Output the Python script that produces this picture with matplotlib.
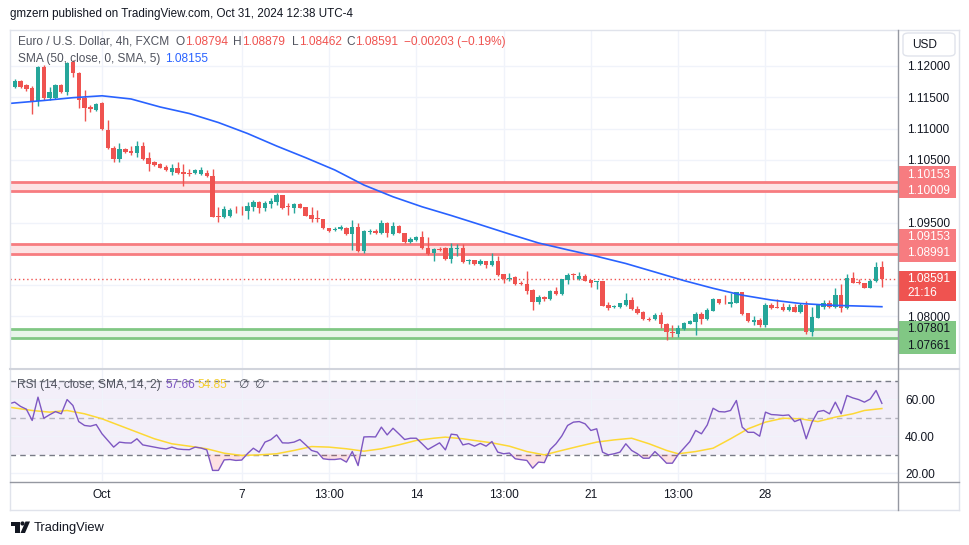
import numpy as np
import matplotlib.pyplot as plt
from matplotlib.lines import Line2D
from matplotlib.patches import Rectangle, FancyBboxPatch, Polygon, Ellipse

plt.rcParams['font.family'] = ['Liberation Sans', 'DejaVu Sans']

W, H = 970, 545


def fx(px):
    return px / W


def fy(py):
    return 1 - py / H


# EUR/USD 4h bars, index 0 = Oct 1 01:00, from -16 to 134
bar_idx = list(range(-16, 135))

bar_open = [
    1.11494, 1.11669, 1.11760, 1.11696, 1.11644, 1.11441, 1.11989, 1.11484, 1.11484, 1.11696,
    1.11580, 1.12069, 1.11883, 1.11484, 1.11350, 1.11297, 1.11404, 1.10978, 1.10695, 1.10514,
    1.10669, 1.10642, 1.10615, 1.10727, 1.10526, 1.10462, 1.10435, 1.10392, 1.10312, 1.10366,
    1.10302, 1.10296, 1.10286, 1.10275, 1.10286, 1.10243, 1.09604, 1.09593, 1.09604, 1.09704,
    1.09700, 1.09684, 1.09752, 1.09832, 1.09727, 1.09796, 1.09832, 1.09939, 1.09756, 1.09736,
    1.09796, 1.09743, 1.09620, 1.09567, 1.09551, 1.09407, 1.09380, 1.09396, 1.09418, 1.09316,
    1.09434, 1.09045, 1.09353, 1.09369, 1.09327, 1.09497, 1.09316, 1.09444, 1.09327, 1.09188,
    1.09220, 1.09273, 1.09097, 1.09008, 1.09077, 1.09088, 1.08912, 1.09081, 1.09097, 1.08880,
    1.08901, 1.08837, 1.08880, 1.08821, 1.08880, 1.08677, 1.08597, 1.08634, 1.08538, 1.08517,
    1.08422, 1.08225, 1.08315, 1.08278, 1.08406, 1.08358, 1.08581, 1.08673, 1.08593, 1.08645,
    1.08581, 1.08550, 1.08565, 1.08182, 1.08145, 1.08155, 1.08182, 1.08262, 1.08118, 1.08075,
    1.07959, 1.07954, 1.08022, 1.07874, 1.07757, 1.07719, 1.07799, 1.07879, 1.07916, 1.08034,
    1.07954, 1.08091, 1.08278, 1.08214, 1.08203, 1.08219, 1.08385, 1.08049, 1.07916, 1.07943,
    1.07863, 1.08182, 1.08155, 1.08155, 1.08102, 1.08155, 1.08065, 1.08182, 1.07746, 1.07980,
    1.08155, 1.08219, 1.08155, 1.08342, 1.08129, 1.08609, 1.08554, 1.08529, 1.08459, 1.08566,
    1.08794,
]
bar_high = [
    1.11696, 1.11792, 1.11776, 1.11712, 1.11681, 1.12000, 1.12016, 1.11660, 1.11712, 1.11712,
    1.12064, 1.12096, 1.11904, 1.11617, 1.11377, 1.11409, 1.11425, 1.11137, 1.10722, 1.10765,
    1.10690, 1.10722, 1.10802, 1.10786, 1.10631, 1.10482, 1.10451, 1.10419, 1.10430, 1.10462,
    1.10435, 1.10350, 1.10355, 1.10382, 1.10339, 1.10355, 1.09752, 1.09764, 1.09732, 1.09764,
    1.09764, 1.09832, 1.09859, 1.09851, 1.09848, 1.09887, 1.09967, 1.09947, 1.09816, 1.09812,
    1.09812, 1.09752, 1.09743, 1.09700, 1.09563, 1.09420, 1.09423, 1.09460, 1.09434, 1.09540,
    1.09498, 1.09380, 1.09396, 1.09391, 1.09540, 1.09513, 1.09513, 1.09460, 1.09332, 1.09273,
    1.09292, 1.09364, 1.09273, 1.09093, 1.09113, 1.09101, 1.09168, 1.09152, 1.09157, 1.08912,
    1.08909, 1.08912, 1.08893, 1.09008, 1.08965, 1.08685, 1.08688, 1.08645, 1.08566, 1.08725,
    1.08438, 1.08342, 1.08326, 1.08422, 1.08474, 1.08605, 1.08698, 1.08698, 1.08704, 1.08673,
    1.08589, 1.08573, 1.08573, 1.08235, 1.08182, 1.08222, 1.08379, 1.08315, 1.08166, 1.08086,
    1.07995, 1.08049, 1.08075, 1.07887, 1.07863, 1.07863, 1.07911, 1.07943, 1.08075, 1.08075,
    1.08129, 1.08289, 1.08286, 1.08342, 1.08369, 1.08390, 1.08390, 1.08059, 1.08011, 1.07975,
    1.08209, 1.08209, 1.08273, 1.08209, 1.08193, 1.08193, 1.08209, 1.08246, 1.08155, 1.08190,
    1.08262, 1.08262, 1.08459, 1.08513, 1.08673, 1.08714, 1.08593, 1.08534, 1.08593, 1.08874,
    1.08879,
]
bar_low = [
    1.11457, 1.11649, 1.11649, 1.11601, 1.11238, 1.11366, 1.11457, 1.11457, 1.11473, 1.11569,
    1.11537, 1.11829, 1.11324, 1.11126, 1.11265, 1.11281, 1.10978, 1.10674, 1.10471, 1.10462,
    1.10610, 1.10578, 1.10546, 1.10498, 1.10327, 1.10403, 1.10363, 1.10323, 1.10254, 1.10275,
    1.10088, 1.10248, 1.10267, 1.10259, 1.10219, 1.09588, 1.09513, 1.09577, 1.09588, 1.09647,
    1.09620, 1.09551, 1.09684, 1.09647, 1.09689, 1.09727, 1.09780, 1.09721, 1.09620, 1.09647,
    1.09724, 1.09596, 1.09513, 1.09513, 1.09396, 1.09356, 1.09369, 1.09380, 1.09300, 1.09061,
    1.09029, 1.09008, 1.09316, 1.09311, 1.09316, 1.09264, 1.09300, 1.09327, 1.09168, 1.09168,
    1.09204, 1.09077, 1.08981, 1.08890, 1.09045, 1.08901, 1.08858, 1.08965, 1.08853, 1.08833,
    1.08821, 1.08829, 1.08768, 1.08813, 1.08653, 1.08538, 1.08571, 1.08501, 1.08501, 1.08358,
    1.08102, 1.08206, 1.08251, 1.08262, 1.08347, 1.08350, 1.08517, 1.08593, 1.08581, 1.08560,
    1.08474, 1.08443, 1.08161, 1.08102, 1.08134, 1.08142, 1.08174, 1.08102, 1.08034, 1.07943,
    1.07932, 1.07943, 1.07810, 1.07624, 1.07678, 1.07678, 1.07783, 1.07871, 1.07703, 1.07879,
    1.07943, 1.08086, 1.08198, 1.08198, 1.08155, 1.08214, 1.08022, 1.07916, 1.07863, 1.07836,
    1.07836, 1.08118, 1.08129, 1.08086, 1.08086, 1.08065, 1.08054, 1.07714, 1.07687, 1.07975,
    1.08118, 1.08129, 1.08142, 1.08065, 1.08118, 1.08529, 1.08517, 1.08449, 1.08454, 1.08550,
    1.08462,
]
bar_close = [
    1.11669, 1.11760, 1.11669, 1.11633, 1.11430, 1.11989, 1.11484, 1.11580, 1.11696, 1.11589,
    1.12043, 1.11883, 1.11457, 1.11334, 1.11308, 1.11388, 1.10994, 1.10695, 1.10514, 1.10669,
    1.10631, 1.10605, 1.10727, 1.10514, 1.10430, 1.10419, 1.10375, 1.10339, 1.10366, 1.10296,
    1.10280, 1.10280, 1.10339, 1.10339, 1.10238, 1.09593, 1.09588, 1.09711, 1.09700, 1.09695,
    1.09695, 1.09764, 1.09832, 1.09727, 1.09816, 1.09848, 1.09939, 1.09736, 1.09748, 1.09796,
    1.09736, 1.09609, 1.09556, 1.09551, 1.09407, 1.09369, 1.09396, 1.09423, 1.09316, 1.09434,
    1.09045, 1.09369, 1.09369, 1.09337, 1.09497, 1.09327, 1.09444, 1.09337, 1.09193, 1.09232,
    1.09273, 1.09088, 1.08997, 1.09072, 1.09061, 1.08912, 1.09097, 1.09097, 1.08864, 1.08901,
    1.08837, 1.08880, 1.08821, 1.08880, 1.08661, 1.08597, 1.08618, 1.08517, 1.08512, 1.08411,
    1.08235, 1.08315, 1.08278, 1.08406, 1.08358, 1.08593, 1.08661, 1.08657, 1.08645, 1.08570,
    1.08538, 1.08570, 1.08171, 1.08139, 1.08171, 1.08209, 1.08262, 1.08113, 1.08059, 1.07954,
    1.07943, 1.08022, 1.07874, 1.07746, 1.07736, 1.07820, 1.07889, 1.07927, 1.08034, 1.07954,
    1.08102, 1.08278, 1.08209, 1.08209, 1.08225, 1.08385, 1.08038, 1.07932, 1.07943, 1.07863,
    1.08182, 1.08129, 1.08139, 1.08102, 1.08155, 1.08075, 1.08182, 1.07746, 1.07995, 1.08182,
    1.08219, 1.08155, 1.08342, 1.08139, 1.08609, 1.08538, 1.08529, 1.08459, 1.08566, 1.08785,
    1.08591,
]

# SMA(50)
sma_idx = [-16, -10, -5, 0, 5, 10, 15, 20, 25, 30, 35, 40, 45, 50, 55, 60,
           65, 70, 75, 80, 85, 90, 95, 100, 105, 110, 115, 120, 125, 130, 134]
sma_val = [1.11401, 1.11449, 1.11494, 1.11524, 1.11473, 1.11345, 1.11241, 1.11097,
           1.10922, 1.10722, 1.10535, 1.10339, 1.10099, 1.09911, 1.09751, 1.09612,
           1.09465, 1.09316, 1.09173, 1.09064, 1.08960, 1.08845, 1.08709, 1.08572,
           1.08449, 1.08339, 1.08262, 1.08206, 1.08179, 1.08166, 1.08155]

# RSI(14), one value per bar
rsi_val = [
    57.4, 58.3, 56.0, 54.5, 48.4, 61.0, 49.6, 51.5, 53.2, 52.0,
    59.7, 56.5, 47.8, 45.7, 45.3, 46.2, 41.2, 37.6, 34.0, 36.7,
    36.3, 36.2, 38.5, 35.2, 34.6, 34.0, 33.4, 33.0, 34.0, 33.0,
    32.7, 32.6, 34.0, 33.5, 32.5, 21.4, 21.4, 27.1, 27.3, 26.8,
    27.0, 30.5, 33.4, 31.3, 36.7, 38.0, 40.6, 36.3, 36.2, 36.7,
    38.1, 35.2, 32.2, 31.3, 27.7, 27.3, 27.3, 27.7, 25.9, 31.6,
    24.0, 39.5, 39.6, 39.5, 44.8, 40.6, 44.2, 41.2, 38.1, 38.8,
    38.8, 35.8, 32.7, 34.5, 36.3, 32.5, 41.0, 40.6, 35.2, 35.9,
    34.5, 36.0, 34.5, 37.0, 31.3, 30.4, 30.8, 27.7, 27.2, 26.8,
    22.6, 25.9, 25.6, 32.7, 35.8, 40.0, 45.7, 47.5, 47.8, 46.6,
    43.0, 43.9, 31.3, 29.8, 30.4, 31.3, 35.8, 32.2, 30.4, 28.0,
    28.0, 31.6, 28.6, 25.3, 25.3, 30.0, 33.5, 37.0, 43.0, 41.2,
    46.0, 55.0, 53.2, 53.0, 53.8, 59.2, 44.8, 42.0, 42.0, 39.9,
    52.9, 51.6, 51.4, 51.1, 51.4, 47.8, 49.0, 38.5, 47.5, 53.2,
    53.8, 52.0, 58.3, 52.0, 61.9, 60.6, 59.7, 58.3, 60.0, 64.6,
    57.66,
]

# RSI-based SMA(14)
rsima_idx = [-16, -12, -9, -6, -3, 0, 3, 6, 9, 12, 15, 18, 21, 24, 27, 30, 33, 36,
             39, 42, 45, 48, 51, 54, 57, 59, 62, 64, 67, 70, 73, 76, 79, 82, 85,
             88, 91, 94, 97, 99, 102, 105, 108, 111, 114, 117, 120, 123, 126, 129,
             131, 134]
rsima_val = [55.6, 53.8, 52.9, 53.8, 52.0, 49.3, 45.7, 42.1, 38.5, 35.8, 34.5, 33.1,
             30.7, 29.5, 29.8, 30.4, 32.2, 34.3, 34.0, 33.1, 31.8, 33.1, 35.2, 37.6,
             38.8, 39.4, 38.5, 37.6, 36.3, 34.5, 31.6, 29.8, 32.2, 34.5, 36.7, 37.9,
             38.8, 35.8, 32.2, 30.4, 31.6, 33.4, 38.5, 43.9, 47.5, 49.6, 49.3, 47.8,
             50.2, 52.0, 53.8, 54.85]

# horizontal zones drawn on the chart
resist_zones = [(1.10009, 1.10153), (1.08991, 1.09153)]
support_zone = (1.07661, 1.07801)
last_price = 1.08591

date_idx = [0, 24, 39, 54, 69, 84, 99, 114]
date_labels = ['Oct', '7', '13:00', '14', '13:00', '21', '13:00', '28']
price_ticks = [1.08, 1.085, 1.09, 1.095, 1.10, 1.105, 1.11, 1.115, 1.12]
price_labels = ['1.08000', '', '', '1.09500', '', '1.10500', '1.11000', '1.11500', '1.12000']

UP = '#26a69a'
DOWN = '#ef5350'
GRID = '#f0f3fa'
TXT = '#131722'
GRAY = '#50535e'

fig = plt.figure(figsize=(W / 100, H / 100), dpi=100)
ax = fig.add_axes([fx(10), fy(368), fx(898) - fx(10), fy(30) - fy(368)])
ax_rsi = fig.add_axes([fx(10), fy(481), fx(898) - fx(10), fy(370) - fy(481)], sharex=ax)

# ---- price pane
x = np.array(bar_idx)
o = np.array(bar_open)
hi = np.array(bar_high)
lo = np.array(bar_low)
c = np.array(bar_close)
colors = np.where(c >= o, UP, DOWN)

for lvl in price_ticks:
    ax.axhline(lvl, color=GRID, lw=1, zorder=0)
for d in date_idx:
    ax.axvline(d, color=GRID, lw=1, zorder=0)

for lo_z, hi_z in resist_zones:
    ax.axhspan(lo_z, hi_z, color='#fde3e4', lw=0, zorder=1)
    ax.axhline(lo_z, color='#f77c80', lw=2, zorder=1)
    ax.axhline(hi_z, color='#f77c80', lw=2, zorder=1)
ax.axhspan(support_zone[0], support_zone[1], color='#e8f5e9', lw=0, zorder=1)
ax.axhline(support_zone[0], color='#81c784', lw=2, zorder=1)
ax.axhline(support_zone[1], color='#81c784', lw=2, zorder=1)

ax.axhline(last_price, color=DOWN, lw=1, ls=(0, (1, 2)), zorder=2)

ax.vlines(x, lo, hi, colors=colors, lw=1, zorder=3)
ax.bar(x, np.maximum(np.abs(c - o), 0.00012), bottom=np.minimum(o, c),
       width=0.76, color=colors, lw=0, zorder=4)

ax.plot(sma_idx, sma_val, color='#2962ff', lw=1.2, zorder=5)

ax.set_xlim(-15.81, 136.77)
ax.set_ylim(1.07176, 1.12575)
ax.yaxis.tick_right()
ax.set_yticks(price_ticks)
ax.set_yticklabels(price_labels)
ax.tick_params(axis='y', length=0, pad=6.5, labelsize=8.6, labelcolor=TXT)
ax.tick_params(axis='x', length=0, labelbottom=False)
for s in ax.spines.values():
    s.set_visible(False)

# ---- RSI pane
rsi = np.array(rsi_val)
ax_rsi.axhspan(30, 70, color='#7e57c2', alpha=0.09, lw=0, zorder=0)
for lvl in [20, 40, 60]:
    ax_rsi.axhline(lvl, color=GRID, lw=1, zorder=0)
for d in date_idx:
    ax_rsi.axvline(d, color=GRID, lw=1, zorder=0)
ax_rsi.axhline(70, color='#787b86', lw=1, ls=(0, (4, 3)), zorder=1)
ax_rsi.axhline(30, color='#787b86', lw=1, ls=(0, (4, 3)), zorder=1)
ax_rsi.axhline(50, color='#787b86', lw=1, ls=(0, (4, 3)), alpha=0.5, zorder=1)
ax_rsi.fill_between(x, rsi, 30, where=rsi < 30, interpolate=True,
                    color='#f23645', alpha=0.15, lw=0, zorder=1)
ax_rsi.plot(x, rsi, color='#7e57c2', lw=1, zorder=3)
ax_rsi.plot(rsima_idx, rsima_val, color='#fdd835', lw=1.1, zorder=2)

ax_rsi.set_ylim(15.68, 75.68)
ax_rsi.yaxis.tick_right()
ax_rsi.set_yticks([20, 40, 60])
ax_rsi.set_yticklabels(['20.00', '40.00', '60.00'])
ax_rsi.tick_params(axis='y', length=0, pad=5, labelsize=8.6, labelcolor=TXT)
ax_rsi.set_xticks(date_idx)
ax_rsi.set_xticklabels(date_labels)
ax_rsi.tick_params(axis='x', length=0, pad=6, labelsize=8.6, labelcolor=TXT)
for s in ax_rsi.spines.values():
    s.set_visible(False)

# ---- frame lines
def hline(y, x0, x1, color, lw=1):
    fig.add_artist(Line2D([fx(x0), fx(x1)], [fy(y), fy(y)], color=color, lw=lw))


def vline(xp, y0, y1, color, lw=1):
    fig.add_artist(Line2D([fx(xp), fx(xp)], [fy(y0), fy(y1)], color=color, lw=lw))


hline(30, 10, 959, '#e0e3eb')
hline(510, 10, 959, '#e0e3eb')
vline(10, 30, 510, '#e0e3eb')
vline(959, 30, 510, '#e0e3eb')
hline(369, 10, 959, '#d1d4dc', 1.5)
hline(481.5, 10, 959, '#9598a1')
vline(898.5, 30, 510, '#9598a1')

# ---- price scale labels
def price_box(y0, y1, color, lines, tcolor):
    fig.add_artist(Rectangle((fx(899), fy(y1)), fx(956) - fx(899), fy(y0) - fy(y1),
                             facecolor=color, edgecolor='none'))
    for ty, t in lines:
        fig.text(fx(907), fy(ty), t, fontsize=8.6, color=tcolor, va='center', ha='left')


price_box(166, 198, '#f77c80', [(175, '1.10153'), (191.5, '1.10009')], 'white')
price_box(229, 262, '#f77c80', [(237.5, '1.09153'), (253.5, '1.08991')], 'white')
price_box(271, 301, DOWN, [(279, '1.08591'), (293, '21:16')], 'white')
price_box(321, 354, '#81c784', [(329.5, '1.07801'), (346, '1.07661')], TXT)

fig.add_artist(FancyBboxPatch((fx(903), fy(56)), fx(955) - fx(903), fy(33) - fy(56),
                              boxstyle='round,pad=0,rounding_size=0.006',
                              facecolor='white', edgecolor='#e0e3eb', lw=1))
fig.text(fx(912), fy(44.5), 'USD', fontsize=8.6, color=TXT, va='center', ha='left')

# ---- header and legends
fig.text(fx(10), fy(14), 'gmzern published on TradingView.com, Oct 31, 2024 12:38 UTC-4',
         fontsize=8.4, color=TXT, va='center', ha='left')

legend_parts = [
    (18, 'Euro / U.S. Dollar, 4h, FXCM', GRAY),
    (176, 'O', GRAY), (185.5, '1.08794', DOWN),
    (233, 'H', GRAY), (242, '1.08879', DOWN),
    (292, 'L', GRAY), (299, '1.08462', DOWN),
    (346, 'C', GRAY), (355.5, '1.08591', DOWN),
    (404, '\u22120.00203 (\u22120.19%)', DOWN),
]
for px_, t, col in legend_parts:
    fig.text(fx(px_), fy(42), t, fontsize=8.6, color=col, va='center', ha='left')

fig.text(fx(18), fy(59), 'SMA (50, close, 0, SMA, 5)', fontsize=8.6, color=GRAY,
         va='center', ha='left')
fig.text(fx(165.5), fy(59), '1.08155', fontsize=8.6, color='#2962ff', va='center', ha='left')

rsi_parts = [
    (17, 'RSI (14, close, SMA, 14, 2)', GRAY),
    (166, '57.66', '#7e57c2'),
    (198, '54.85', '#f5d033'),
    (238, '\u2205', GRAY),
    (254, '\u2205', GRAY),
]
for px_, t, col in rsi_parts:
    fig.text(fx(px_), fy(385), t, fontsize=8.6, color=col, va='center', ha='left',
             family=['Liberation Sans', 'DejaVu Sans'])

# ---- TradingView logo
def pts(lst):
    return [(fx(a), fy(b)) for a, b in lst]


fig.add_artist(Polygon(pts([(11, 521.5), (19.5, 521.5), (19.5, 533), (15.5, 533),
                            (15.5, 525.5), (11, 525.5)]), closed=True,
                       facecolor=TXT, edgecolor='none'))
fig.add_artist(Ellipse((fx(22.5), fy(523.5)), fx(4.2), 4.2 / H,
                       facecolor=TXT, edgecolor='none'))
fig.add_artist(Polygon(pts([(25.5, 521.5), (30, 521.5), (25, 533), (20.5, 533)]),
                       closed=True, facecolor=TXT, edgecolor='none'))
fig.text(fx(34), fy(527.5), 'TradingView', fontsize=9.3, color=TXT, va='center', ha='left')

fig.savefig('out.png', dpi=100, facecolor='white')
